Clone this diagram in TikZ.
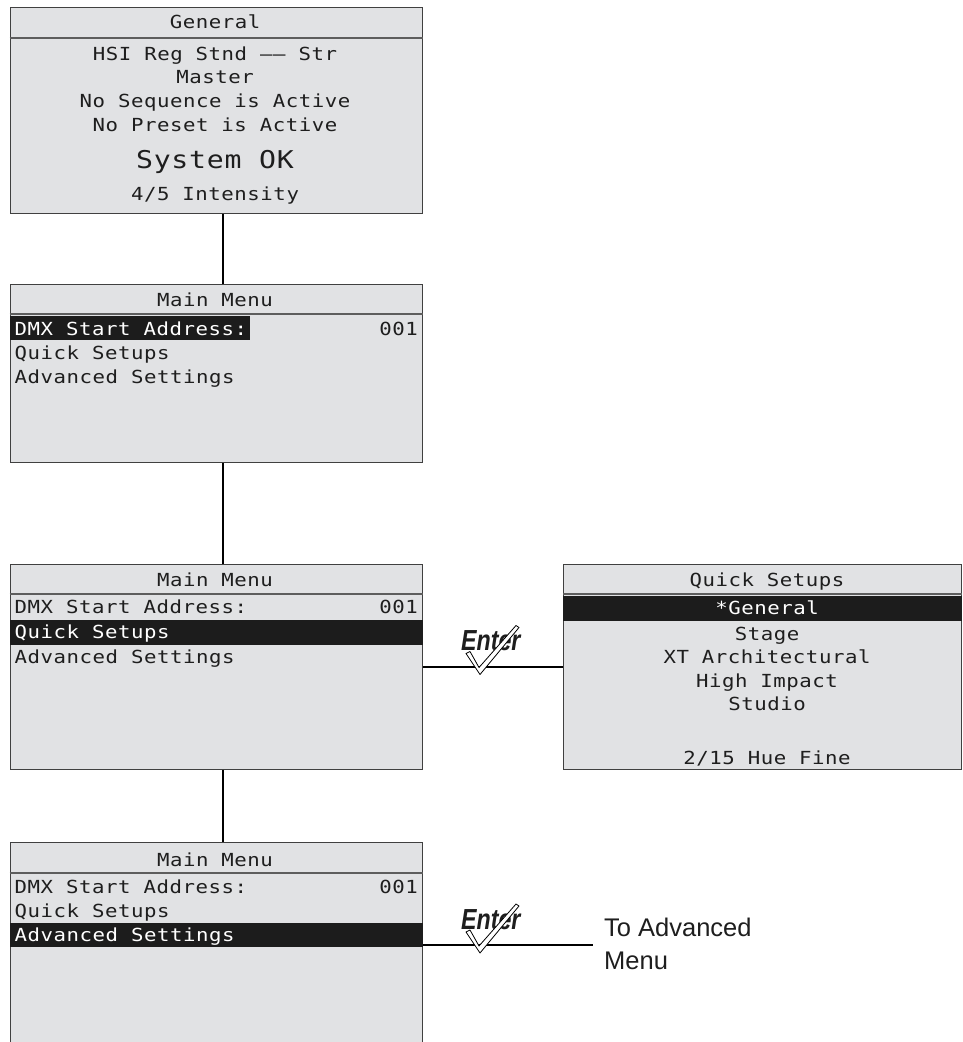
\documentclass[tikz,border=0pt]{standalone}
\usepackage{fontspec}
\newfontfamily\lcdfont[FakeStretch=1.15,LetterSpace=3]{DejaVu Sans Mono}
\newfontfamily\labelfont{Liberation Sans}
\newfontfamily\enterfont[FakeStretch=0.8]{Liberation Sans}
\definecolor{lcdgray}{RGB}{225,226,228}
\definecolor{lcdedge}{RGB}{64,64,64}
\definecolor{lcdbar}{RGB}{28,28,28}
\definecolor{lcdink}{RGB}{30,30,30}

\begin{document}
\begin{tikzpicture}[x=1pt,y=-1pt,
  screen/.style={draw=lcdedge,line width=1.4pt,fill=lcdgray,inner sep=0pt,anchor=north west},
  wide/.style={minimum width=412pt},
  sepline/.style={draw=lcdedge!85,line width=1.6pt},
  bar/.style={fill=lcdbar},
  lcd/.style={inner sep=0pt,text=lcdink,font=\lcdfont\fontsize{18}{20}\selectfont},
  ctr/.style={lcd,anchor=base},
  row/.style={lcd,anchor=base west},
  value/.style={lcd,anchor=base east},
  inverse/.style={text=white},
  link/.style={draw=black,line width=2.4pt},
  enterkey/.pic={
    \node[anchor=base west,inner sep=0pt,text=lcdink,
      font=\enterfont\bfseries\itshape\fontsize{29}{30}\selectfont] (word) at (-18,-16) {Enter};
    \draw[line width=0.8pt,fill=white,line join=round]
      (-13,-13) -- (-9,-15) -- (0,1) -- (37,-41) -- (40,-39) -- (1,8) -- cycle;
  }]
  \useasboundingbox (0,0) rectangle (962,1042);
  \clip (0,0) rectangle (962,1042);

  % status screen
  \node[screen,wide,minimum height=206pt] (general) at (9.5,7) {};
  \draw[sepline] (general.west |- 0,38) -- (general.east |- 0,38);
  \node[ctr] (genT) at (215,28.3) {General};
  \node[ctr] (genA) at (215,60.7) {HSI Reg Stnd —— Str};
  \node[ctr] (genB) at (215,83.3) {Master};
  \node[ctr] (genC) at (215,107.3) {No Sequence is Active};
  \node[ctr] (genD) at (215,131.7) {No Preset is Active};
  \node[ctr,font=\lcdfont\fontsize{24.5}{28}\selectfont] (genE) at (215,168.3) {System OK};
  \node[ctr] (genF) at (215,200) {4/5 Intensity};

  % main menu, address selected
  \node[screen,wide,minimum height=178pt] (menuA) at (9.5,284) {};
  \draw[sepline] (menuA.west |- 0,314) -- (menuA.east |- 0,314);
  \fill[bar] (menuA.west |- 0,316) rectangle (250,340);
  \node[ctr] (menuAT) at (215,306) {Main Menu};
  \node[row,inverse] (menuA1) at (14.5,335.7) {DMX Start Address:};
  \node[value] (menuAv) at (418,335.7) {001};
  \node[row] (menuA2) at (14.5,359.5) {Quick Setups};
  \node[row] (menuA3) at (14.5,383.3) {Advanced Settings};

  % main menu, quick setups selected
  \node[screen,wide,minimum height=205pt] (menuB) at (9.5,564) {};
  \draw[sepline] (menuB.west |- 0,594) -- (menuB.east |- 0,594);
  \fill[bar] (menuB.west |- 0,620) rectangle (menuB.east |- 0,645);
  \node[ctr] (menuBT) at (215,586.7) {Main Menu};
  \node[row] (menuB1) at (14.5,613.3) {DMX Start Address:};
  \node[value] (menuBv) at (418,613.3) {001};
  \node[row,inverse] (menuB2) at (14.5,638.3) {Quick Setups};
  \node[row] (menuB3) at (14.5,663.3) {Advanced Settings};

  % quick setups list
  \node[screen,minimum width=398pt,minimum height=205pt] (quick) at (563,564) {};
  \draw[sepline] (quick.west |- 0,594) -- (quick.east |- 0,594);
  \fill[bar] (quick.west |- 0,596) rectangle (quick.east |- 0,621);
  \node[ctr] (quickT) at (767,586.7) {Quick Setups};
  \node[ctr,inverse] (quick1) at (767,614) {*General};
  \node[ctr] (quick2) at (767,640) {Stage};
  \node[ctr] (quick3) at (767,663.3) {XT Architectural};
  \node[ctr] (quick4) at (767,687.3) {High Impact};
  \node[ctr] (quick5) at (767,710) {Studio};
  \node[ctr] (quick6) at (767,764) {2/15 Hue Fine};

  % main menu, advanced settings selected
  \node[screen,wide,minimum height=230pt] (menuC) at (9.5,842) {};
  \draw[sepline] (menuC.west |- 0,873) -- (menuC.east |- 0,873);
  \fill[bar] (menuC.west |- 0,923) rectangle (menuC.east |- 0,947);
  \node[ctr] (menuCT) at (215,866) {Main Menu};
  \node[row] (menuC1) at (14.5,893.3) {DMX Start Address:};
  \node[value] (menuCv) at (418,893.3) {001};
  \node[row] (menuC2) at (14.5,917.3) {Quick Setups};
  \node[row,inverse] (menuC3) at (14.5,941.7) {Advanced Settings};

  % connectors
  \draw[link] ([xshift=7pt]general.south) -- ([xshift=7pt]menuA.north);
  \draw[link] ([xshift=7pt]menuA.south) -- ([xshift=7pt]menuB.north);
  \draw[link] ([xshift=7pt]menuB.south) -- ([xshift=7pt]menuC.north);
  \draw[link] (menuB) -- (quick);
  \pic (enterA) at (479,666.5) {enterkey};
  \coordinate (toadv) at (593,945);
  \draw[link] (menuC.east |- toadv) -- (toadv);
  \pic (enterB) at (479,945) {enterkey};
  \node[anchor=west,inner sep=0pt,align=left,text=lcdink,
    font=\labelfont\fontsize{25.5}{33}\selectfont] (advtext) at (604,943.5) {To Advanced\\Menu};
\end{tikzpicture}
\end{document}
